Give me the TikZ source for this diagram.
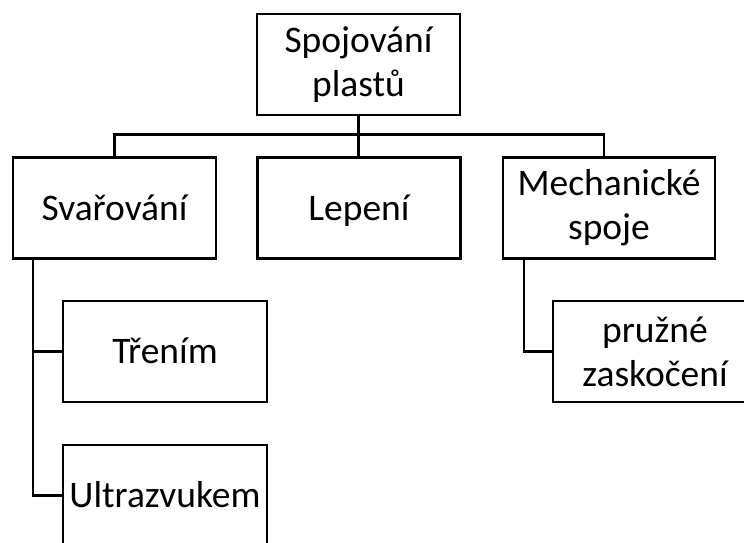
\documentclass[tikz,border=0pt]{standalone}
\usepackage{fontspec}
\setmainfont{Carlito}
\begin{document}
\begin{tikzpicture}[x=1pt,y=-1pt,
  box/.style={draw,line width=2.5pt,minimum width=203pt,minimum height=101pt,
    align=center,inner sep=0pt,font=\fontsize{37.5}{44}\selectfont},
  oneline/.style={box,text height=32pt,text depth=8pt},
  conn/.style={line width=2.5pt}]
\useasboundingbox (0,0) rectangle (744,543);
\clip (0,0) rectangle (744,543);
\node[box] (root) at (358.5,64.5) {Spojování\\plastů};
\node[oneline] (svar) at (114.5,208) {Svařování};
\node[oneline] (lep) at (359,208) {Lepení};
\node[box,minimum width=212pt] (mech) at (609,208) {Mechanické\\spoje};
\node[oneline,minimum width=204pt] (tren) at (165,351.5) {Třením};
\node[oneline,minimum width=204pt] (ultra) at (165,495.5) {Ultrazvukem};
\node[box,minimum width=204pt] (pruz) at (655,351.5) {pružné\\zaskočení};
\draw[conn] (root.south) -- (root.south |- lep.north);
\draw[conn] (svar.north) -- ++(0,-22) -| ([xshift=-5pt]mech.north);
\draw[conn] ([xshift=-81.5pt]svar.south) |- (tren.west);
\draw[conn] ([xshift=-81.5pt]svar.south) |- (ultra.west);
\draw[conn] ([xshift=-85pt]mech.south) |- (pruz.west);
\end{tikzpicture}
\end{document}
